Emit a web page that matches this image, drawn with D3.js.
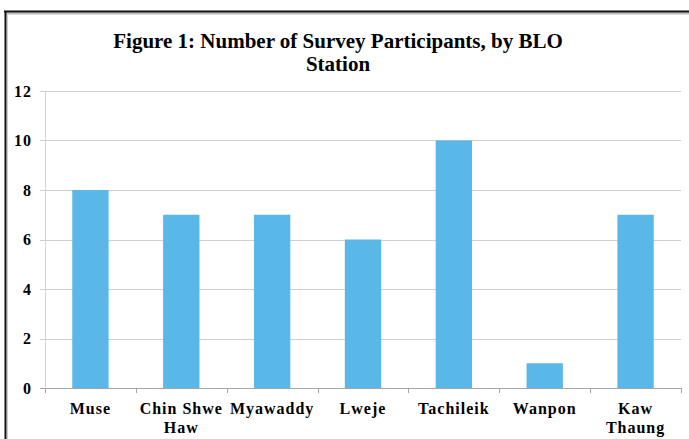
<!DOCTYPE html>
<html lang="en">
<head>
  <meta charset="UTF-8">
  <title>Figure 1: Number of Survey Participants, by BLO Station</title>
  <script src="https://d3js.org/d3.v7.min.js"></script>
  <style>
    body { margin: 0; background: #fff; }
  </style>
</head>
<body>
  <svg width="689" height="439"></svg>
  <script>
    const stations = [["Muse"], ["Chin Shwe", "Haw"], ["Myawaddy"], ["Lweje"], ["Tachileik"], ["Wanpon"], ["Kaw", "Thaung"]];
    const participants = [8, 7, 7, 6, 10, 1, 7];
    const yTicks = [0, 2, 4, 6, 8, 10, 12];
    const titleLines = ["Figure 1: Number of Survey Participants, by BLO", "Station"];

    const serif = "'Liberation Serif', 'Times New Roman', 'DejaVu Serif', serif";

    const svg = d3.select("svg")
      .attr("font-family", serif)
      .attr("font-weight", "bold");
    const margin = { top: 91, right: 8, bottom: 51, left: 45 };
    const width = 689 - margin.left - margin.right;
    const height = 439 - margin.top - margin.bottom;

    // frame with a soft shadow along top and left
    svg.append("line").attr("x1", 5).attr("x2", 689).attr("y1", 13.5).attr("y2", 13.5)
      .attr("stroke", "#bbb").attr("stroke-width", 2);
    svg.append("line").attr("x1", 7.5).attr("x2", 7.5).attr("y1", 12).attr("y2", 439)
      .attr("stroke", "#ccc").attr("stroke-width", 1);
    svg.append("line").attr("x1", 4).attr("x2", 689).attr("y1", 11.5).attr("y2", 11.5)
      .attr("stroke", "#111").attr("stroke-width", 2);
    svg.append("line").attr("x1", 5.5).attr("x2", 5.5).attr("y1", 11).attr("y2", 439)
      .attr("stroke", "#111").attr("stroke-width", 2);

    svg.selectAll(".title").data(titleLines).enter().append("text")
      .attr("class", "title")
      .attr("x", 338).attr("y", (d, i) => 48 + i * 23)
      .attr("text-anchor", "middle")
      .style("font-family", serif)
      .style("font-size", "21px")
      .text(d => d);

    const g = svg.append("g").attr("transform", `translate(${margin.left},${margin.top})`);

    const x = d3.scaleBand().domain(d3.range(stations.length)).range([0, width]).paddingInner(0.6).paddingOuter(0.3);
    const y = d3.scaleLinear().domain([0, 12]).range([height, 0]);

    // gridlines
    g.selectAll(".grid").data(yTicks.filter(d => d > 0)).enter().append("line")
      .attr("x1", -5).attr("x2", width)
      .attr("y1", d => Math.round(y(d)) + 0.5).attr("y2", d => Math.round(y(d)) + 0.5)
      .attr("stroke", "#cfcfcf");

    // y axis line
    g.append("line").attr("x1", 0.5).attr("x2", 0.5).attr("y1", 0).attr("y2", height)
      .attr("stroke", "#d4d4d4");

    g.selectAll(".ylab").data(yTicks).enter().append("text")
      .attr("x", -13).attr("y", d => y(d)).attr("dy", "0.35em")
      .attr("text-anchor", "end")
      .style("font-family", serif)
      .style("font-size", "16px")
      .style("letter-spacing", "1px")
      .text(d => d);

    g.selectAll(".bar").data(participants).enter().append("rect")
      .attr("x", (d, i) => x(i))
      .attr("y", d => y(d))
      .attr("width", x.bandwidth())
      .attr("height", d => height - y(d))
      .attr("fill", "#5ab8e8");

    // x axis with ticks on band boundaries
    const step = width / stations.length;
    g.append("line").attr("x1", -5).attr("x2", width).attr("y1", height + 0.5).attr("y2", height + 0.5)
      .attr("stroke", "#a6a6a6");
    g.selectAll(".xtick").data(d3.range(stations.length + 1)).enter().append("line")
      .attr("x1", d => Math.round(d * step) + 0.5).attr("x2", d => Math.round(d * step) + 0.5)
      .attr("y1", height).attr("y2", height + 5)
      .attr("stroke", "#a6a6a6");

    const labels = g.selectAll(".xlab").data(stations).enter().append("text")
      .attr("x", (d, i) => x(i) + x.bandwidth() / 2)
      .attr("y", height + 26)
      .attr("text-anchor", "middle")
      .style("font-family", serif)
      .style("font-size", "16px")
      .style("letter-spacing", "1px");
    labels.selectAll("tspan").data(d => d).enter().append("tspan")
      .attr("x", function() { return this.parentNode.getAttribute("x"); })
      .attr("dy", (d, i) => i === 0 ? 0 : 19)
      .text(d => d);
  </script>
</body>
</html>
